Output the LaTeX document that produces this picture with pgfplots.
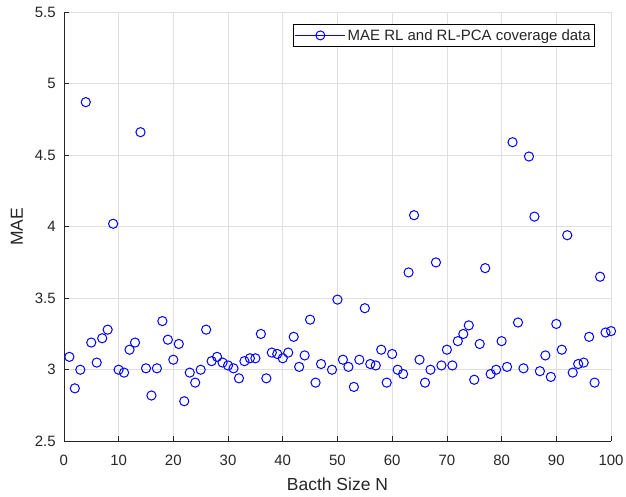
\documentclass[border=0pt]{standalone}
\usepackage{fontspec}
\setmainfont{Liberation Sans}
\usepackage{pgfplots}
\pgfplotsset{compat=1.18}
\definecolor{txtgray}{RGB}{38,38,38}
\definecolor{gridgray}{RGB}{223,223,223}

\begin{document}
\begin{tikzpicture}
\begin{axis}[
  scale only axis, width=548bp, height=430bp,
  xmin=0, xmax=100, ymin=2.5, ymax=5.5,
  xtick={0,10,...,100}, ytick={2.5,3,3.5,4,4.5,5,5.5},
  grid=major, major grid style={draw=gridgray, line width=0.6bp},
  axis x line*=bottom, axis y line*=left,
  axis line style={-, draw=txtgray, line width=0.7bp},
  tick align=inside, major tick length=5bp,
  tick style={draw=txtgray, line width=0.7bp},
  /pgf/number format/assume math mode=true,
  ticklabel style={font=\fontsize{15bp}{18bp}\selectfont, text=txtgray},
  xticklabel style={inner sep=0pt, anchor=north, yshift=-14bp},
  yticklabel style={inner sep=0pt, anchor=east, xshift=-8bp},
  xlabel={Bacth Size N}, ylabel={MAE},
  label style={font=\fontsize{17.5bp}{20bp}\selectfont, text=txtgray},
  xlabel style={at={(axis description cs:0.5,-0.1)}, anchor=center},
  ylabel style={at={(axis description cs:-0.0858,0.5)}, anchor=center},
  legend style={at={(1,1)}, anchor=north east, xshift=-16bp, yshift=-12bp,
    draw=black, line width=0.6bp, text=txtgray,
    font=\fontsize{15bp}{18bp}\selectfont, inner xsep=2bp, inner ysep=3bp},
  legend image code/.code={
    \draw[blue, line width=0.8bp] (0bp,0bp) -- (50bp,0bp);
    \draw[blue, line width=1bp] (25bp,0bp) circle (4.5bp);},
]
\addplot[only marks, mark=o, mark size=4.6bp, blue, mark options={line width=1bp}] coordinates {
  (1,3.09) (2,2.87) (3,3.00) (4,4.87) (5,3.19) (6,3.05) (7,3.22) (8,3.28) (9,4.02) (10,3.00)
  (11,2.98) (12,3.14) (13,3.19) (14,4.66) (15,3.01) (16,2.82) (17,3.01) (18,3.34) (19,3.21) (20,3.07)
  (21,3.18) (22,2.78) (23,2.98) (24,2.91) (25,3.00) (26,3.28) (27,3.06) (28,3.09) (29,3.05) (30,3.03)
  (31,3.01) (32,2.94) (33,3.06) (34,3.08) (35,3.08) (36,3.25) (37,2.94) (38,3.12) (39,3.11) (40,3.08)
  (41,3.12) (42,3.23) (43,3.02) (44,3.10) (45,3.35) (46,2.91) (47,3.04) (49,3.00) (50,3.49)
  (51,3.07) (52,3.02) (53,2.88) (54,3.07) (55,3.43) (56,3.04) (57,3.03) (58,3.14) (59,2.91) (60,3.11)
  (61,3.00) (62,2.97) (63,3.68) (64,4.08) (65,3.07) (66,2.91) (67,3.00) (68,3.75) (69,3.03) (70,3.14)
  (71,3.03) (72,3.20) (73,3.25) (74,3.31) (75,2.93) (76,3.18) (77,3.71) (78,2.97) (79,3.00) (80,3.20)
  (81,3.02) (82,4.59) (83,3.33) (84,3.01) (85,4.49) (86,4.07) (87,2.99) (88,3.10) (89,2.95) (90,3.32)
  (91,3.14) (92,3.94) (93,2.98) (94,3.04) (95,3.05) (96,3.23) (97,2.91) (98,3.65) (99,3.26) (100,3.27)
};
\addlegendentry{MAE RL and RL-PCA coverage data}
\coordinate (sw) at (rel axis cs:0,0);
\coordinate (ne) at (rel axis cs:1,1);
\end{axis}
\path ([shift={(-64bp,-55bp)}]sw) rectangle ([shift={(15bp,12bp)}]ne);
\end{tikzpicture}
\end{document}
